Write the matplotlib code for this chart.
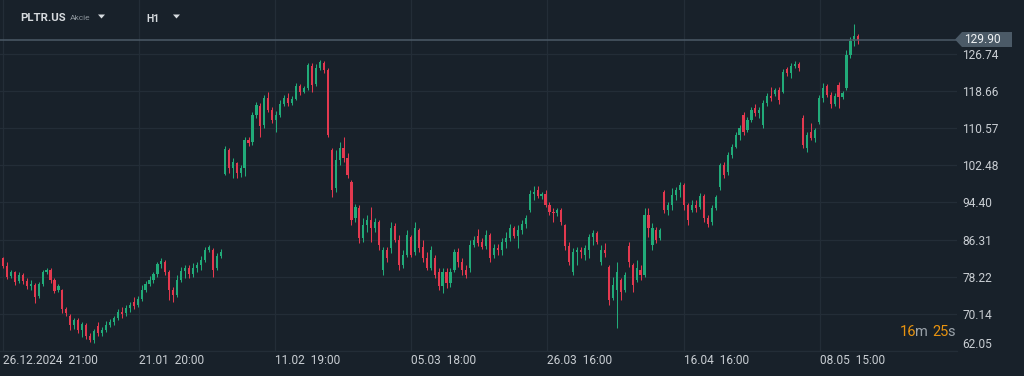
import matplotlib
matplotlib.use("Agg")
import matplotlib.pyplot as plt
import numpy as np
from matplotlib.patches import Polygon
from matplotlib.transforms import blended_transform_factory

plt.rcParams['font.family'] = ['Roboto', 'DejaVu Sans']

# ---------------- data (hourly candles, PLTR.US) ----------------
opens = [
    82.3, 80.6, 78.4, 79.2, 77.3, 78.6, 77.3, 76.2, 76.4, 74.0,
    76.6, 79.2, 79.7, 77.5, 75.3, 75.3, 71.2, 69.7, 67.7, 68.8,
    66.6, 67.7, 65.3, 64.4, 67.5, 66.0, 66.6, 67.7, 68.4, 69.2,
    70.5, 70.3, 71.4, 72.7, 72.1, 73.4, 75.3, 76.6, 77.5, 78.8,
    81.0, 81.4, 79.2, 75.3, 74.2, 77.5, 79.5, 80.1, 78.8, 80.1,
    80.8, 81.9, 84.0, 84.0, 80.1, 82.7, 100.6, 105.8, 101.9, 103.0,
    100.8, 101.9, 108.0, 107.6, 113.5, 115.4, 111.3, 117.2, 114.5, 112.4,
    113.5, 115.9, 117.2, 116.1, 116.9, 119.8, 118.5, 119.3, 124.1, 120.2,
    123.7, 124.8, 123.3, 105.8, 97.5, 103.7, 106.3, 104.1, 98.9, 91.0,
    93.2, 86.7, 89.5, 90.6, 88.8, 90.1, 79.7, 84.0, 84.5, 89.3,
    86.2, 80.8, 83.0, 86.9, 83.6, 88.4, 84.7, 82.3, 80.1, 82.3,
    79.2, 76.2, 79.2, 76.8, 79.7, 83.6, 81.4, 79.7, 80.1, 85.1,
    87.1, 85.8, 84.9, 87.3, 83.0, 84.5, 84.0, 85.8, 86.7, 88.8,
    87.1, 88.4, 89.7, 92.8, 96.2, 97.1, 95.8, 96.2, 93.8, 92.3,
    92.1, 92.8, 89.5, 84.9, 79.2, 83.6, 84.0, 83.0, 84.0, 86.9,
    87.7, 81.4, 84.0, 80.3, 73.6, 75.3, 77.5, 75.3, 84.9, 80.8,
    77.5, 79.7, 78.6, 91.7, 85.1, 88.4, 86.7, 96.7, 92.8, 93.8,
    96.0, 97.1, 98.2, 93.8, 92.8, 93.8, 93.4, 95.8, 91.0, 90.1,
    93.2, 97.8, 102.6, 101.0, 104.7, 106.5, 109.1, 113.5, 110.2, 112.4,
    115.0, 113.9, 111.3, 116.1, 117.6, 118.0, 118.9, 118.5, 123.5, 122.6,
    124.1, 124.6, 112.8, 106.3, 109.8, 108.4, 111.9, 117.2, 119.8, 117.8,
    115.9, 120.0, 117.4, 119.3, 126.5, 129.6, 130.7,
]
closes = [
    80.6, 78.2, 79.2, 77.1, 78.6, 77.3, 76.2, 76.6, 73.8, 76.6,
    79.2, 79.7, 77.5, 75.1, 76.2, 71.2, 70.3, 67.7, 68.8, 66.6,
    67.9, 65.3, 64.4, 66.4, 66.0, 66.6, 67.7, 68.4, 69.2, 70.5,
    70.1, 71.4, 72.1, 71.8, 73.4, 75.3, 76.6, 77.5, 78.8, 81.0,
    81.6, 79.2, 75.3, 74.2, 77.5, 79.5, 80.1, 78.8, 80.1, 80.8,
    81.9, 84.0, 84.7, 79.7, 82.7, 83.6, 106.0, 101.9, 103.2, 100.8,
    101.9, 108.0, 107.4, 113.5, 115.6, 111.1, 117.2, 114.5, 112.4, 113.5,
    115.9, 117.2, 116.1, 116.9, 119.8, 118.5, 119.3, 124.3, 120.0, 123.7,
    125.0, 123.3, 109.1, 97.1, 103.7, 106.3, 104.1, 100.4, 90.6, 93.4,
    86.7, 89.5, 90.6, 88.8, 90.1, 85.1, 84.0, 82.3, 88.8, 86.2,
    80.8, 83.0, 87.3, 83.0, 88.8, 84.5, 82.3, 80.1, 84.0, 78.6,
    76.2, 79.2, 76.8, 79.2, 83.6, 81.4, 79.7, 78.6, 85.1, 86.2,
    85.6, 84.7, 87.3, 82.3, 84.5, 84.0, 85.8, 86.7, 88.8, 87.1,
    88.4, 89.7, 91.0, 96.2, 96.7, 95.8, 96.2, 93.8, 92.3, 92.1,
    92.8, 90.1, 84.9, 81.4, 83.6, 84.0, 83.6, 84.5, 86.9, 87.7,
    85.8, 84.0, 83.4, 73.1, 76.4, 79.2, 74.9, 78.6, 81.4, 76.4,
    80.1, 78.6, 91.7, 88.8, 88.8, 86.2, 88.4, 92.8, 93.8, 96.0,
    97.1, 98.2, 93.8, 90.6, 93.8, 93.2, 95.8, 91.0, 89.7, 93.2,
    95.6, 102.6, 100.4, 104.7, 106.5, 109.1, 110.6, 109.8, 112.4, 114.5,
    113.9, 114.5, 116.1, 117.6, 117.2, 118.9, 116.7, 122.8, 122.6, 124.1,
    124.6, 123.7, 106.9, 109.1, 108.4, 110.2, 117.2, 119.3, 117.8, 115.9,
    117.6, 117.4, 118.2, 126.5, 129.6, 130.7, 129.9,
]
highs = [
    82.5, 81.4, 79.7, 79.5, 79.2, 79.0, 77.9, 77.5, 76.8, 77.1,
    79.7, 80.1, 80.1, 77.9, 76.6, 75.5, 71.6, 70.1, 69.2, 69.2,
    68.4, 68.1, 66.0, 66.8, 68.4, 67.3, 68.6, 69.0, 69.7, 71.2,
    71.6, 72.1, 72.7, 73.8, 74.0, 76.4, 77.3, 78.4, 79.2, 81.4,
    82.3, 81.9, 79.7, 76.0, 78.6, 80.3, 80.8, 80.8, 81.2, 81.4,
    82.7, 84.7, 85.1, 84.5, 83.4, 84.3, 106.7, 106.3, 104.1, 103.2,
    102.6, 108.7, 108.7, 114.1, 116.3, 116.1, 117.8, 118.5, 115.2, 114.3,
    116.7, 117.8, 118.2, 117.6, 120.4, 120.2, 119.8, 124.8, 124.8, 124.6,
    125.4, 125.2, 123.7, 106.3, 105.8, 107.6, 108.7, 105.2, 99.3, 94.1,
    93.8, 91.0, 91.7, 93.4, 91.0, 90.6, 84.7, 84.7, 90.1, 89.9,
    87.3, 84.0, 88.4, 87.3, 90.1, 88.8, 86.2, 83.6, 84.9, 83.0,
    80.1, 80.1, 80.1, 80.1, 84.3, 84.5, 82.3, 80.8, 86.2, 87.1,
    88.6, 86.7, 88.4, 87.7, 85.3, 85.3, 86.7, 88.0, 89.7, 89.3,
    89.5, 90.6, 91.7, 97.1, 98.0, 98.0, 96.7, 97.1, 94.5, 93.2,
    93.2, 93.2, 89.7, 85.8, 84.5, 84.7, 84.7, 85.1, 87.5, 88.4,
    88.2, 85.1, 85.6, 80.8, 78.2, 81.4, 77.9, 79.2, 85.8, 81.2,
    81.9, 80.8, 93.2, 93.2, 89.9, 89.1, 88.8, 97.1, 94.5, 97.5,
    97.8, 98.9, 98.6, 94.3, 94.9, 94.9, 96.5, 96.2, 91.7, 93.8,
    96.0, 103.0, 103.2, 105.4, 107.1, 109.8, 111.3, 114.1, 113.0, 115.2,
    115.9, 115.2, 116.7, 118.2, 119.6, 119.3, 119.6, 123.5, 123.9, 124.8,
    125.2, 125.0, 113.5, 109.8, 111.7, 110.6, 117.8, 120.4, 120.2, 118.5,
    118.2, 120.6, 118.7, 127.6, 130.5, 133.3, 131.1,
]
lows = [
    80.1, 77.7, 77.9, 76.4, 76.8, 76.6, 75.5, 75.3, 72.5, 73.6,
    76.2, 78.8, 76.8, 74.7, 74.9, 70.3, 69.7, 66.6, 66.8, 66.0,
    65.1, 64.6, 64.0, 63.8, 65.3, 65.3, 66.2, 67.3, 67.7, 68.8,
    69.2, 69.7, 70.5, 71.2, 71.6, 72.9, 74.9, 76.2, 76.8, 78.2,
    80.1, 78.6, 73.1, 72.7, 73.8, 77.1, 77.9, 77.9, 78.2, 79.2,
    79.7, 81.4, 83.6, 78.2, 79.7, 82.3, 100.4, 100.8, 99.7, 99.7,
    99.9, 100.2, 106.7, 106.9, 112.8, 108.7, 110.6, 114.1, 111.7, 109.8,
    113.0, 115.4, 115.4, 115.6, 116.7, 117.8, 118.2, 118.9, 118.5, 119.8,
    123.3, 122.6, 108.7, 95.6, 96.7, 102.6, 103.2, 99.7, 89.5, 90.1,
    85.6, 85.8, 88.0, 85.8, 88.0, 84.0, 78.6, 81.4, 83.4, 85.8,
    79.7, 80.1, 82.5, 82.5, 83.0, 83.6, 81.4, 79.7, 79.7, 77.9,
    75.3, 74.7, 75.8, 76.0, 79.2, 80.3, 78.6, 77.9, 79.2, 84.7,
    84.9, 84.3, 84.3, 81.4, 82.3, 83.0, 83.0, 84.5, 86.0, 86.7,
    84.5, 87.5, 88.8, 92.3, 94.9, 95.4, 95.2, 93.4, 91.7, 90.1,
    91.4, 89.5, 84.0, 80.8, 78.6, 80.8, 82.3, 81.9, 82.3, 85.1,
    85.3, 80.8, 82.5, 72.1, 73.1, 67.0, 73.1, 74.9, 80.3, 74.9,
    77.1, 77.5, 78.2, 86.9, 84.0, 85.6, 86.2, 92.1, 91.7, 92.8,
    94.9, 95.6, 92.8, 89.5, 92.3, 92.3, 93.0, 90.1, 89.1, 89.5,
    92.8, 97.1, 99.7, 100.4, 104.1, 106.3, 108.0, 109.1, 109.8, 111.9,
    113.2, 112.8, 110.6, 115.4, 116.5, 117.6, 115.9, 118.2, 122.0, 121.5,
    123.7, 123.0, 106.3, 105.4, 108.0, 107.6, 111.5, 116.3, 117.4, 115.0,
    115.4, 115.0, 116.9, 118.9, 125.9, 128.5, 128.9,
]
price_ticks = [126.74, 118.66, 110.57, 102.48, 94.40, 86.31, 78.22, 70.14, 62.05]
time_labels = ["26.12.2024  21:00", "21.01  20:00", "11.02  19:00", "05.03  18:00",
               "26.03  16:00", "16.04  16:00", "08.05  15:00"]
time_label_pos = [0, 34.3, 68.7, 103.0, 137.4, 172.0, 206.3]
last_price = 129.90
symbol = "PLTR.US"
asset_type = "Akcie"
timeframe = "H1"
countdown = [("16", "num"), ("m", "unit"), ("25", "num"), ("s", "unit")]

assert len(opens) == len(closes) == len(highs) == len(lows)

# ---------------- style ----------------
BG = "#18212a"
GRID = "#232d37"
GREEN = "#21ab79"
RED = "#e3394f"
TXT = "#c9ced3"
W, H = 1024, 376

fig = plt.figure(figsize=(W / 100, H / 100), dpi=100, facecolor=BG)
ax_top, ax_bottom, ax_right = 0, 351, 957
ax = fig.add_axes([0, (H - ax_bottom) / H, ax_right / W, (ax_bottom - ax_top) / H])
ax.set_facecolor(BG)

o = np.array(opens); c = np.array(closes); hi = np.array(highs); lo = np.array(lows)
x = np.arange(len(o))
cols = [GREEN if cc >= oo else RED for oo, cc in zip(o, c)]
ax.vlines(x, lo, hi, colors=cols, linewidth=0.75, zorder=2)
body_bottom = np.minimum(o, c)
body_h = np.maximum(np.abs(c - o), 0.2)
ax.bar(x, body_h, bottom=body_bottom, width=0.55, color=cols, linewidth=0, zorder=3)

spacing_px = 3.96
first_px = 3
ax.set_xlim(-first_px / spacing_px, (ax_right - first_px) / spacing_px)
ymin, ymax = 62.02, 138.51
ax.set_ylim(ymin, ymax)

# grid
ax.set_yticks(price_ticks)
ax.set_yticklabels([f"{t:.2f}" for t in price_ticks])
ax.yaxis.tick_right()
ax.set_xticks(time_label_pos)
ax.set_xticklabels(time_labels)
for lbl in ax.get_xticklabels():
    lbl.set_ha("left")
ax.get_yticklabels()[-1].set_va("bottom")
ax.tick_params(axis="y", length=0, pad=4, labelsize=8.6, labelcolor=TXT)
ax.tick_params(axis="x", length=0, pad=2.5, labelsize=8.6, labelcolor=TXT)
ax.grid(True, color=GRID, linewidth=0.9)
ax.set_axisbelow(True)
for s in ["top", "left", "right"]:
    ax.spines[s].set_visible(False)
ax.spines["bottom"].set_color(GRID)
ax.spines["bottom"].set_linewidth(0.9)

# last price line + tag
ax.axhline(last_price, color="#4b5a67", linewidth=1.1, zorder=4)
ppu = (ax_bottom - ax_top) / (ymax - ymin)
hh = 7.5 / ppu
tr = blended_transform_factory(fig.transFigure, ax.transData)
tag = Polygon([(955 / W, last_price), (962 / W, last_price + hh), (1012 / W, last_price + hh),
               (1012 / W, last_price - hh), (962 / W, last_price - hh)],
              closed=True, transform=tr, facecolor="#4b5a67", edgecolor="none",
              clip_on=False, zorder=5)
ax.add_patch(tag)
ax.text(964 / W, last_price, f"{last_price:.2f}", transform=tr, color="#eef1f3",
        fontsize=8.6, va="center", ha="left", zorder=6, clip_on=False)

# countdown
cx = [900, 915, 932, 947.5]
for (t, kind), px in zip(countdown, cx):
    fig.text(px / W, 1 - 332 / H, t, color="#e8930f" if kind == "num" else "#9aa2a9",
             fontsize=10.5, va="center", ha="left")

# header
fig.text(20 / W, 1 - 18 / H, symbol, color="#d7dbdf", fontsize=8.2, fontweight="bold",
         va="center", ha="left")
fig.text(70 / W, 1 - 18.5 / H, asset_type, color="#8b939a", fontsize=6, va="center", ha="left")
fig.text(146 / W, 1 - 19 / H, timeframe, color="#d7dbdf", fontsize=7.5, fontweight="bold",
         va="center", ha="left")
for tx in (98, 173):
    tri = Polygon([((tx) / W, 1 - 14.5 / H), ((tx + 7) / W, 1 - 14.5 / H),
                   ((tx + 3.5) / W, 1 - 18.5 / H)], closed=True, transform=fig.transFigure,
                  facecolor="#d7dbdf", edgecolor="none")
    fig.patches.append(tri)

fig.savefig("out.png", dpi=100, facecolor=BG)
